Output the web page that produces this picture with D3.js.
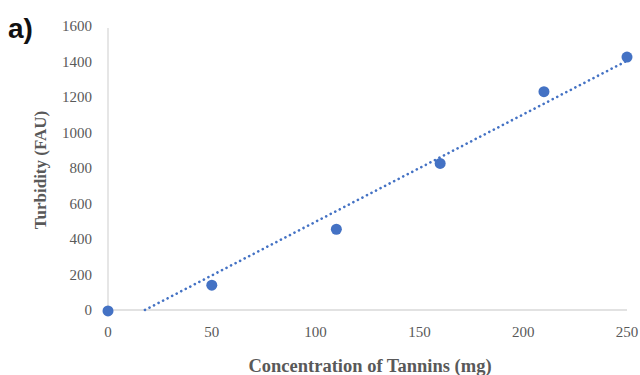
<!DOCTYPE html>
<html>
<head>
<meta charset="utf-8">
<script src="https://cdn.jsdelivr.net/npm/d3@7"></script>
<style>
  body { margin: 0; background: #fff; }
  svg { display: block; }
</style>
</head>
<body>
<div id="chart"></div>
<script>
// data
const concentration = [0, 50, 110, 160, 210, 250]
const turbidity = [-5, 140, 455, 826, 1230, 1425]
const xTicks = [0, 50, 100, 150, 200, 250]
const yTicks = [0, 200, 400, 600, 800, 1000, 1200, 1400, 1600]

const width = 640, height = 375

let svg = d3.select('#chart')
    .append('svg')
    .attr('width', width)
    .attr('height', height)

let x = d3.scaleLinear().domain([0, 250]).range([108, 627])
let y = d3.scaleLinear().domain([0, 1600]).range([310, 26])

const grey = '#595959'
const axisColor = '#d9d9d9'
const blue = '#4472c4'
const serif = "'Liberation Serif', 'Times New Roman', serif"

// axis lines
svg.append('line')
    .attr('x1', x(0)).attr('x2', x(0))
    .attr('y1', y(1600) + 2).attr('y2', y(0))
    .attr('stroke', axisColor).attr('stroke-width', 1.3)
svg.append('line')
    .attr('x1', x(0)).attr('x2', x(250))
    .attr('y1', y(0)).attr('y2', y(0))
    .attr('stroke', axisColor).attr('stroke-width', 1.3)

// tick labels
svg.selectAll('.ytick')
    .data(yTicks)
    .enter().append('text')
    .attr('class', 'ytick')
    .attr('x', 92)
    .attr('y', d => y(d))
    .attr('dy', '0.35em')
    .attr('text-anchor', 'end')
    .attr('font-family', serif)
    .attr('font-size', 15)
    .attr('fill', grey)
    .text(d => d)

svg.selectAll('.xtick')
    .data(xTicks)
    .enter().append('text')
    .attr('class', 'xtick')
    .attr('x', d => x(d))
    .attr('y', 332)
    .attr('dy', '0.35em')
    .attr('text-anchor', 'middle')
    .attr('font-family', serif)
    .attr('font-size', 15)
    .attr('fill', grey)
    .text(d => d)

// axis titles
svg.append('text')
    .attr('transform', 'translate(46,170) rotate(-90)')
    .attr('text-anchor', 'middle')
    .attr('font-family', serif)
    .attr('font-weight', 'bold')
    .attr('font-size', 17)
    .attr('fill', grey)
    .text('Turbidity (FAU)')

svg.append('text')
    .attr('x', 370)
    .attr('y', 372)
    .attr('text-anchor', 'middle')
    .attr('font-family', serif)
    .attr('font-weight', 'bold')
    .attr('font-size', 18.5)
    .attr('fill', grey)
    .text('Concentration of Tannins (mg)')

// panel label
svg.append('text')
    .attr('x', 8)
    .attr('y', 38)
    .attr('font-family', "'Liberation Sans', Arial, sans-serif")
    .attr('font-weight', 'bold')
    .attr('font-size', 28)
    .attr('fill', '#111')
    .text('a)')

// linear trendline (least squares), clipped at y = 0 like the original
let mx = d3.mean(concentration), my = d3.mean(turbidity)
let sxy = d3.sum(concentration, (c, i) => (c - mx) * (turbidity[i] - my))
let sxx = d3.sum(concentration, c => (c - mx) * (c - mx))
let slope = sxy / sxx
let intercept = my - slope * mx
let xStart = Math.max(0, -intercept / slope)

svg.append('line')
    .attr('x1', x(xStart)).attr('y1', y(slope * xStart + intercept))
    .attr('x2', x(250)).attr('y2', y(slope * 250 + intercept))
    .attr('stroke', blue)
    .attr('stroke-width', 2.6)
    .attr('stroke-linecap', 'round')
    .attr('stroke-dasharray', '0.1 5')

// points
svg.selectAll('.pt')
    .data(concentration)
    .enter().append('circle')
    .attr('class', 'pt')
    .attr('cx', d => x(d))
    .attr('cy', (d, i) => y(turbidity[i]))
    .attr('r', 5.5)
    .attr('fill', blue)
</script>
</body>
</html>
